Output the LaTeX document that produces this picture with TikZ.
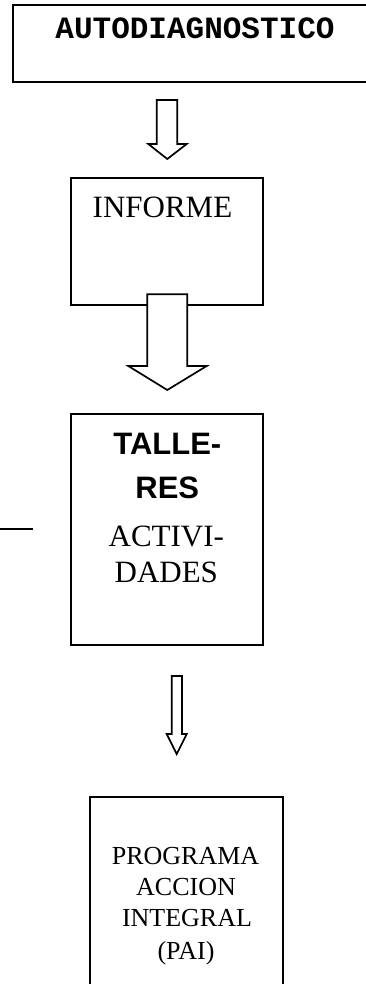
\documentclass[tikz,border=0pt]{standalone}
\usepackage{fontspec}
\setmainfont{Liberation Serif}
\newfontfamily\arialfont{Liberation Sans}
\newfontfamily\courfont{Liberation Mono}
\begin{document}
\begin{tikzpicture}[x=1pt,y=-1pt,
  box/.style={draw=black,line width=2pt,fill=white,inner sep=0pt},
  blockarrow/.style={draw=black,line width=1.7pt,fill=white,line join=miter},
  lbl/.style={anchor=base,inner sep=0pt,text=black},
  big/.style={font=\fontsize{31}{36}\selectfont},
  small/.style={font=\fontsize{26}{31}\selectfont}]
\useasboundingbox (0,0) rectangle (366,984);
\clip (0,0) rectangle (366,984);
% boxes
\node[box,minimum width=360pt,minimum height=77pt] (auto) at (193,43.5) {};
\node[box,minimum width=192pt,minimum height=127pt] (inf) at (167,241.5) {};
\node[box,minimum width=192pt,minimum height=231pt] (tal) at (167,529.5) {};
\node[box,minimum width=193pt,minimum height=220pt] (pai) at (186.5,906.5) {};
% texts
\node[lbl,big] (t1) at (195,39) {\courfont\bfseries AUTODIAGNOSTICO};
\node[lbl,big] (t2) at (162.5,217.7) {INFORME};
\node[lbl,big] (t3) at (167.3,454) {\arialfont\bfseries TALLE-};
\node[lbl,big] (t4) at (167.3,498.3) {\arialfont\bfseries RES};
\node[lbl,big] (t5) at (166.3,546.7) {ACTIVI-};
\node[lbl,big] (t6) at (166.3,582.7) {DADES};
\node[lbl,small] (t7) at (185.5,864) {PROGRAMA};
\node[lbl,small] (t8) at (186,895.3) {ACCION};
\node[lbl,small] (t9) at (187,926.7) {INTEGRAL};
\node[lbl,small] (t10) at (186,959.5) {(PAI)};
% block arrows
\draw[blockarrow] (156.7,100) -- (177.3,100) -- (177.3,144) -- (186.7,144) -- (167.3,159) -- (148.3,144) -- (156.7,144) -- cycle;
\draw[blockarrow] (147.3,294.3) -- (187.3,294.3) -- (187.3,366) -- (206.7,366) -- (167.3,390) -- (128.3,366) -- (147.3,366) -- cycle;
\draw[blockarrow] (171.7,676) -- (182,676) -- (182,734) -- (186.7,734) -- (176.7,754) -- (166.7,734) -- (171.7,734) -- cycle;
% left line
\coordinate (l0) at (0,529.3);
\coordinate (l1) at (33.3,529.3);
\draw[line width=1.8pt] (l0) -- (l1);
\end{tikzpicture}
\end{document}
